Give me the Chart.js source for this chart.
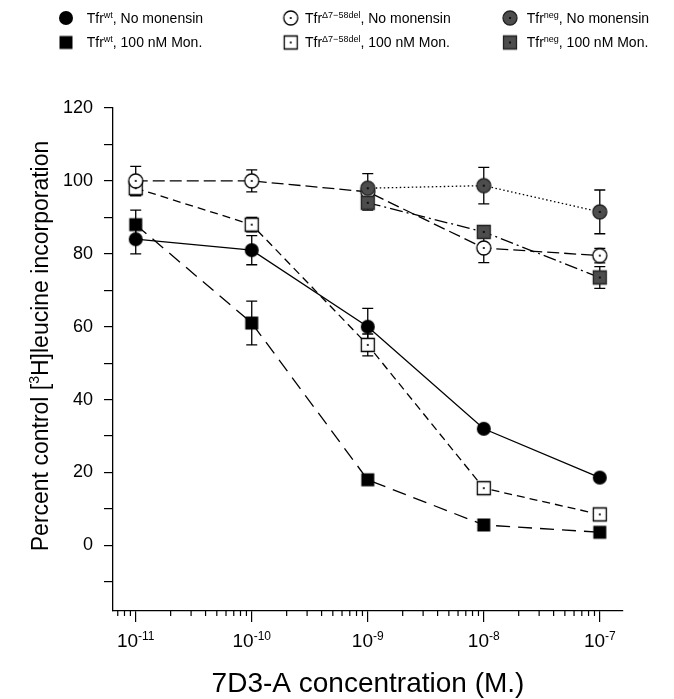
<!DOCTYPE html>
<html>
<head>
<meta charset="utf-8">
<script src="https://cdn.jsdelivr.net/npm/chart.js@4"></script>
<style>
  html, body { margin: 0; padding: 0; background: #fff; }
  #wrap { width: 674px; height: 699px; position: relative; }
</style>
</head>
<body>
<div id="wrap"><canvas id="myChart"></canvas></div>
<script>
const FONT = '"Liberation Sans", Arial, sans-serif';

// x values (M) and their tick exponents
const concentrations = [1e-11, 1e-10, 1e-9, 1e-8, 1e-7];
const xExponents = ["-11", "-10", "-9", "-8", "-7"];
const yTicks = [-10, 0, 10, 20, 30, 40, 50, 60, 70, 80, 90, 100, 110, 120];

// percent control [3H]leucine incorporation
const wtNoMon = [84, 81, 60, 32, 18.6];
const wtNoMonErr = [4, 4, 5, 0, 0];
const wtMon = [88, 61, 18, 5.6, 3.6];
const wtMonErr = [4, 6, 0, 0, 0];
const delNoMon = [100, 100, 97, 81.6, 79.5];
const delNoMonErr = [4, 3, 0, 4, 2];
const delMon = [98, 88, 55, 15.7, 8.5];
const delMonErr = [2, 2, 3, 0, 0];
const negNoMon = [null, null, 98, 98.7, 91.5];
const negNoMonErr = [0, 0, 4, 5, 6];
const negMon = [null, null, 94, 86, 73.5];
const negMonErr = [0, 0, 2, 0, 3];

function makeMarker(kind) {
    const c = document.createElement("canvas");
    c.width = 18; c.height = 18;
    const g = c.getContext("2d");
    const m = 9;
    g.lineWidth = 1.3;
    g.strokeStyle = "#000";
    g.beginPath();
    if (kind.indexOf("circle") >= 0) {
        g.arc(m, m, 7, 0, Math.PI * 2);
    } else {
        g.rect(m - 6.5, m - 6.5, 13, 13);
    }
    if (kind[0] === "f") {
        g.fillStyle = "#000";
        g.fill();
    } else if (kind[0] === "o") {
        g.fillStyle = "#fff";
        g.fill();
        g.stroke();
    } else {
        g.fillStyle = "#4d4d4d";
        g.fill();
        g.strokeStyle = "#222";
        g.stroke();
    }
    if (kind[0] !== "f") {
        g.fillStyle = "#000";
        g.beginPath();
        g.arc(m, m, 1.1, 0, Math.PI * 2);
        g.fill();
    }
    return c;
}

const markers = {
    fcircle: makeMarker("fcircle"),
    fsquare: makeMarker("fsquare"),
    ocircle: makeMarker("ocircle"),
    osquare: makeMarker("osquare"),
    gcircle: makeMarker("gcircle"),
    gsquare: makeMarker("gsquare"),
};

function series(label, values, errors, dash, marker, order) {
    const pts = [];
    const errs = [];
    values.forEach((v, i) => {
        if (v !== null) {
            pts.push({ x: concentrations[i], y: v });
            errs.push(errors[i]);
        }
    });
    return {
        label: label,
        data: pts,
        errors: errs,
        order: order,
        borderColor: "#000",
        borderWidth: 1.3,
        borderDash: dash,
        pointStyle: markers[marker],
        pointRadius: 8,
        fill: false,
        tension: 0,
    };
}

const datasets = [
    series("Tfr wt, No monensin", wtNoMon, wtNoMonErr, [], "fcircle", 1),
    series("Tfr wt, 100 nM Mon.", wtMon, wtMonErr, [14, 8], "fsquare", 1),
    series("Tfr del, No monensin", delNoMon, delNoMonErr, [12, 5], "ocircle", 1),
    series("Tfr del, 100 nM Mon.", delMon, delMonErr, [8, 5], "osquare", 1),
    series("Tfr neg, No monensin", negNoMon, negNoMonErr, [1.5, 2.5], "gcircle", 0),
    series("Tfr neg, 100 nM Mon.", negMon, negMonErr, [13, 4, 2, 4], "gsquare", 0),
];

const legendItems = [
    { x: 66, tx: 86.7, row: 0, marker: "fcircle", sup: "wt", rest: ", No monensin" },
    { x: 66, tx: 86.7, row: 1, marker: "fsquare", sup: "wt", rest: ", 100 nM Mon." },
    { x: 290.7, tx: 305, row: 0, marker: "ocircle", sup: "\u03947\u221258del", rest: ", No monensin" },
    { x: 290.7, tx: 305, row: 1, marker: "osquare", sup: "\u03947\u221258del", rest: ", 100 nM Mon." },
    { x: 510, tx: 526.7, row: 0, marker: "gcircle", sup: "neg", rest: ", No monensin" },
    { x: 510, tx: 526.7, row: 1, marker: "gsquare", sup: "neg", rest: ", 100 nM Mon." },
];

// error bars under the markers
const errorBars = {
    id: "errorBars",
    beforeDatasetsDraw(chart) {
        const ctx = chart.ctx;
        const ys = chart.scales.y;
        ctx.save();
        ctx.strokeStyle = "#000";
        ctx.lineWidth = 1.3;
        chart.data.datasets.forEach((ds, di) => {
            const meta = chart.getDatasetMeta(di);
            meta.data.forEach((pt, i) => {
                const e = ds.errors[i];
                if (!e) return;
                const v = ds.data[i].y;
                const top = ys.getPixelForValue(v + e);
                const bot = ys.getPixelForValue(v - e);
                ctx.beginPath();
                ctx.moveTo(pt.x, top); ctx.lineTo(pt.x, bot);
                ctx.moveTo(pt.x - 5.5, top); ctx.lineTo(pt.x + 5.5, top);
                ctx.moveTo(pt.x - 5.5, bot); ctx.lineTo(pt.x + 5.5, bot);
                ctx.stroke();
            });
        });
        ctx.restore();
    },
};

function drawSupText(ctx, parts, x, y, align) {
    // parts: [text, size, raise]
    let total = 0;
    parts.forEach(p => {
        ctx.font = p[1] + "px " + FONT;
        total += ctx.measureText(p[0]).width;
    });
    let cx = align === "center" ? x - total / 2 : x;
    parts.forEach(p => {
        ctx.font = p[1] + "px " + FONT;
        ctx.fillText(p[0], cx, y - p[2]);
        cx += ctx.measureText(p[0]).width;
    });
}

const decorations = {
    id: "decorations",
    afterDraw(chart) {
        const ctx = chart.ctx;
        const xs = chart.scales.x;
        const bottom = chart.chartArea.bottom;
        ctx.save();
        ctx.fillStyle = "#000";
        ctx.strokeStyle = "#000";
        ctx.textBaseline = "alphabetic";
        ctx.textAlign = "left";

        // minor x ticks
        ctx.lineWidth = 1.2;
        ctx.beginPath();
        for (let e = -12; e <= -7; e++) {
            for (let m = 2; m <= 9; m++) {
                const v = m * Math.pow(10, e);
                if (v < xs.min || v > xs.max) continue;
                const px = xs.getPixelForValue(v);
                ctx.moveTo(px, bottom);
                ctx.lineTo(px, bottom + 5);
            }
        }
        ctx.stroke();

        // x tick labels with superscript exponents
        concentrations.forEach((c, i) => {
            const px = xs.getPixelForValue(c);
            drawSupText(ctx, [["10", 19, 0], [xExponents[i], 12, 7]], px, 647, "center");
        });

        // x title
        drawSupText(ctx, [["7D3-A concentration (M.)", 28, 0]], 368, 692, "center");

        // y title
        ctx.save();
        ctx.translate(48, 346);
        ctx.rotate(-Math.PI / 2);
        drawSupText(ctx, [["Percent control [", 23, 0], ["3", 14, 9], ["H]leucine incorporation", 23, 0]], 0, 0, "center");
        ctx.restore();

        // legend
        legendItems.forEach(it => {
            const cy = it.row === 0 ? 18 : 42.5;
            const img = markers[it.marker];
            ctx.drawImage(img, it.x - img.width / 2, cy - img.height / 2);
            drawSupText(ctx, [["Tfr", 14, 0], [it.sup, 9, 5], [it.rest, 14, 0]], it.tx, cy + 4.7, "left");
        });
        ctx.restore();
    },
};

const config = {
    type: "line",
    data: { datasets: datasets },
    options: {
        responsive: true,
        maintainAspectRatio: false,
        animation: false,
        events: [],
        layout: { padding: { top: 108, right: 51, left: 0, bottom: 0 } },
        plugins: {
            legend: { display: false },
            tooltip: { enabled: false },
        },
        scales: {
            x: {
                type: "logarithmic",
                min: 6.37e-12,
                max: 1.585e-7,
                afterBuildTicks: (scale) => {
                    scale.ticks = concentrations.map(v => ({ value: v }));
                },
                afterFit: (scale) => { scale.height = 88; },
                ticks: { display: false },
                grid: {
                    drawOnChartArea: false,
                    drawTicks: true,
                    tickLength: 11,
                    color: "#000",
                    lineWidth: 1.2,
                },
                border: { display: true, color: "#000", width: 1.3 },
            },
            y: {
                type: "linear",
                min: -18,
                max: 120,
                afterBuildTicks: (scale) => {
                    scale.ticks = yTicks.map(v => ({ value: v }));
                },
                afterFit: (scale) => { scale.width = 113; },
                ticks: {
                    color: "#000",
                    padding: 11,
                    font: { family: FONT, size: 18 },
                    callback: (v) => (v % 20 === 0 ? String(v) : ""),
                },
                grid: {
                    drawOnChartArea: false,
                    drawTicks: true,
                    tickLength: 9,
                    color: "#000",
                    lineWidth: 1.2,
                },
                border: { display: true, color: "#000", width: 1.3 },
            },
        },
    },
    plugins: [errorBars, decorations],
};

var myChart = new Chart(document.getElementById("myChart"), config);
</script>
</body>
</html>
